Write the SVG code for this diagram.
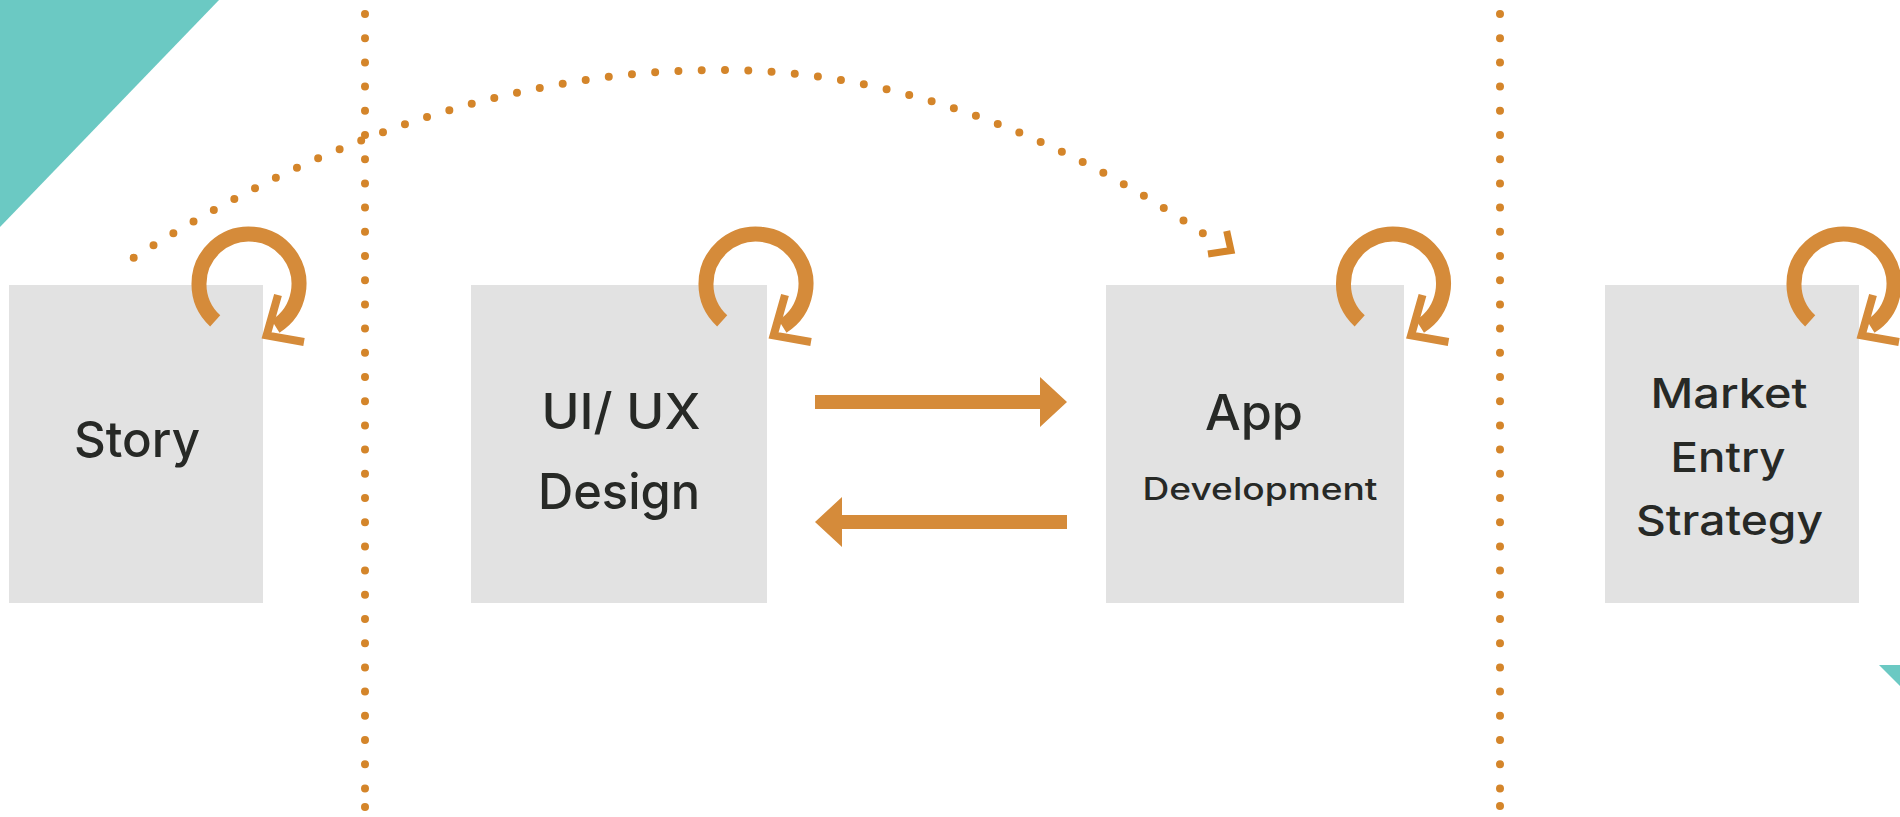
<svg xmlns="http://www.w3.org/2000/svg" xmlns:xlink="http://www.w3.org/1999/xlink" width="1900" height="817" viewBox="0 0 1900 817">
  <style>
    .box { fill: #E2E2E2; }
    .lbl { font-family: Inter, Lato, "Liberation Sans", sans-serif; font-weight: 500; fill: #272926; text-anchor: middle; }
    .big { font-size: 50px; }
    .mid { font-size: 41px; }
    .small { font-size: 31px; }
    .vdots { fill: none; stroke: #D4852A; stroke-width: 8; stroke-linecap: round; stroke-dasharray: 0 24.2; }
    .dot { fill: #D4852A; }
    .adots { fill: none; stroke: #D4852A; stroke-width: 8; stroke-linecap: round; stroke-dasharray: 0 23.3; }
    .ring { fill: none; stroke: #D58B3A; stroke-width: 15; }
    .chev { fill: none; stroke: #D58B3A; stroke-width: 8; stroke-linejoin: miter; }
    .chev2 { fill: none; stroke: #D4852A; stroke-width: 7; stroke-linejoin: miter; }
    .harrow { fill: #D58B3A; }
    .teal { fill: #6BC9C3; }
  </style>
  <defs>
    <g id="loop">
      <path class="ring" d="M215.2,320.9 A50,50 0 1 1 275.5,326.4"/>
      <polyline class="chev" points="278,295 266.6,335.4 304,342"/>
    </g>
  </defs>

  <g id="background">
    <polygon class="teal" points="0,0 219,0 0,227"/>
    <polygon class="teal" points="1879,665 1900,665 1900,686"/>
    <line class="vdots" x1="365" y1="14" x2="365" y2="800"/>
    <circle class="dot" cx="365" cy="807" r="4"/>
    <line class="vdots" x1="1500" y1="14" x2="1500" y2="800"/>
    <circle class="dot" cx="1500" cy="806" r="4"/>
  </g>

  <g id="node-story">
    <rect class="box" x="9" y="285" width="254" height="318"/>
    <text class="lbl big" x="137" y="457" textLength="126" lengthAdjust="spacingAndGlyphs">Story</text>
  </g>

  <g id="node-uiux">
    <rect class="box" x="471" y="285" width="296" height="318"/>
    <text class="lbl big" x="621" y="429" textLength="159" lengthAdjust="spacingAndGlyphs">UI/ UX</text>
    <text class="lbl big" x="619" y="509" textLength="162" lengthAdjust="spacingAndGlyphs">Design</text>
  </g>

  <g id="node-app">
    <rect class="box" x="1106" y="285" width="298" height="318"/>
    <text class="lbl big" x="1254" y="430" textLength="98" lengthAdjust="spacingAndGlyphs">App</text>
    <text class="lbl small" x="1260" y="500" textLength="235" lengthAdjust="spacingAndGlyphs">Development</text>
  </g>

  <g id="node-market">
    <rect class="box" x="1605" y="285" width="254" height="318"/>
    <text class="lbl mid" x="1729" y="408" textLength="157" lengthAdjust="spacingAndGlyphs">Market</text>
    <text class="lbl mid" x="1728" y="472" textLength="115" lengthAdjust="spacingAndGlyphs">Entry</text>
    <text class="lbl mid" x="1729.5" y="535" textLength="187" lengthAdjust="spacingAndGlyphs">Strategy</text>
  </g>

  <g id="connectors">
    <use xlink:href="#loop" href="#loop"/>
    <use xlink:href="#loop" href="#loop" x="507" y="0"/>
    <use xlink:href="#loop" href="#loop" x="1144.5" y="0"/>
    <use xlink:href="#loop" href="#loop" x="1595" y="0"/>
    <polygon class="harrow" points="815,395 1040,395 1040,377 1067,402 1040,427 1040,409 815,409"/>
    <polygon class="harrow" points="1067,515 842,515 842,497 815,522 842,547 842,529 1067,529"/>
    <path class="adots" d="M133.7,257.7 Q427.4,70 721,70 Q967.5,70 1214,241"/>
    <polyline class="chev2" points="1226.7,231 1231,250.5 1208,254"/>
  </g>
</svg>
